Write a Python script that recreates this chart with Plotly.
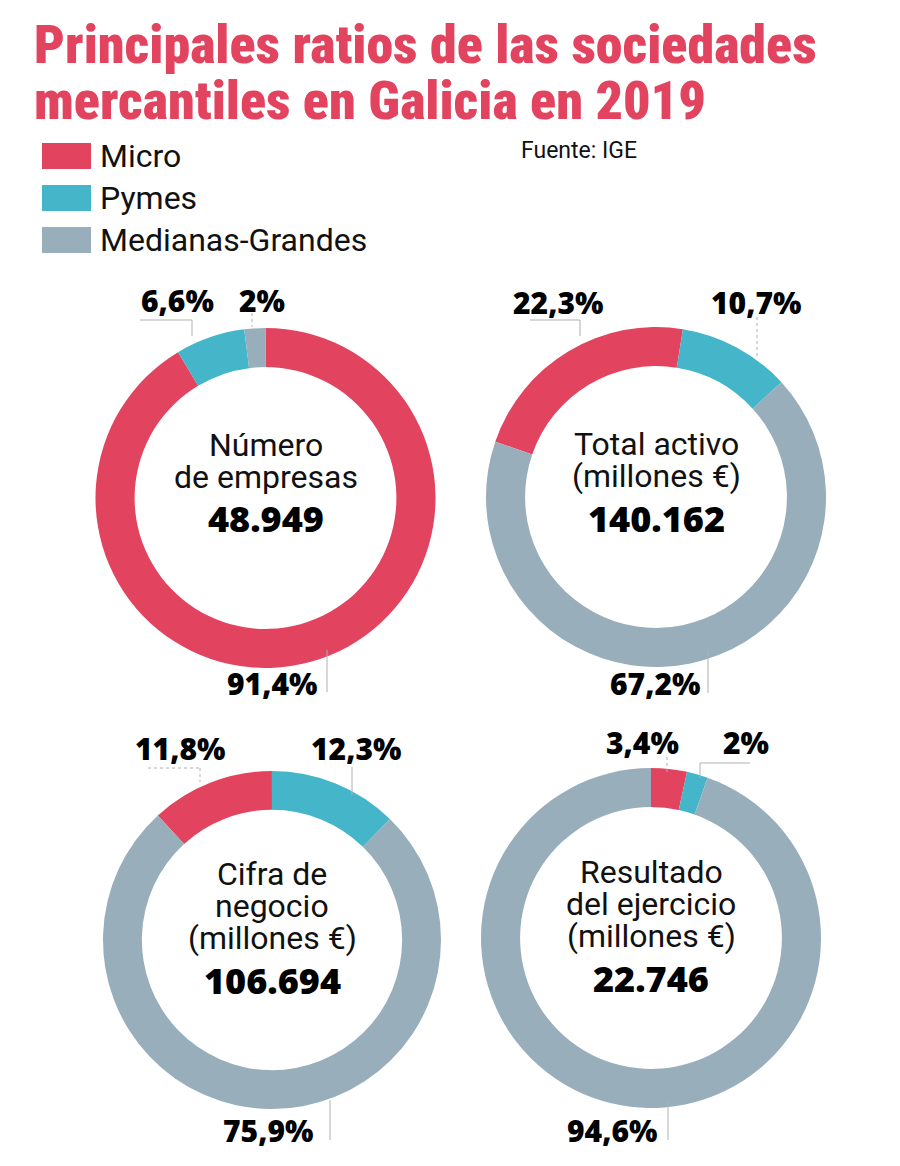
import plotly.graph_objects as go

# The page body has an 8px margin; the figure fills the rest of the 900x1166 window.
OFF = 8
W, H = 900 - OFF, 1166 - OFF

categories = ["Micro", "Pymes", "Medianas-Grandes"]
colors = ["#E2435F", "#45B6CA", "#99AEBB"]

metric_titles = [
    ["Número", "de empresas"],
    ["Total activo", "(millones €)"],
    ["Cifra de", "negocio", "(millones €)"],
    ["Resultado", "del ejercicio", "(millones €)"],
]
totals = ["48.949", "140.162", "106.694", "22.746"]

share_numero = [91.4, 6.6, 2.0]
share_activo = [22.3, 10.7, 67.2]
share_cifra = [11.8, 12.3, 75.9]
share_resultado = [3.4, 2.0, 94.6]
shares = [share_numero, share_activo, share_cifra, share_resultado]

pct_texts = [
    ["91,4%", "6,6%", "2%"],
    ["22,3%", "10,7%", "67,2%"],
    ["11,8%", "12,3%", "75,9%"],
    ["3,4%", "2%", "94,6%"],
]

rotations = [0, -71, -42.5, 0]
# donut geometry in page pixels: center x, center y, radius
geom = [(265.5, 498, 170), (656, 497, 170), (272, 940, 169), (651, 938, 170)]

RED = "#E2435F"
TITLE_FONT = "Roboto Condensed"
BODY_FONT = "Roboto"
BOLD_FONT = "Noto Sans"


def px(x, y):
    return (x - OFF) / W, 1 - (y - OFF) / H


fig = go.Figure()
for vals, rot, (cx, cy, r) in zip(shares, rotations, geom):
    x0, y1 = px(cx - r, cy - r)
    x1, y0 = px(cx + r, cy + r)
    fig.add_trace(go.Pie(
        labels=categories, values=vals, sort=False, direction="clockwise",
        rotation=rot, hole=0.77, textinfo="none", hoverinfo="label+percent",
        marker=dict(colors=colors, line=dict(width=0)), showlegend=False,
        domain=dict(x=[x0, x1], y=[y0, y1]),
    ))

ann = []
shapes = []

# Title
for txt, y in [("Principales ratios de las sociedades", 44),
               ("mercantiles en Galicia en 2019", 100)]:
    x0, y0 = px(32, y)
    ann.append(dict(x=x0, y=y0, xref="paper", yref="paper", xanchor="left", yanchor="middle",
                    text=txt, showarrow=False,
                    font=dict(family=TITLE_FONT, size=54, color=RED, weight=900)))

# Legend
for k, (cat, col) in enumerate(zip(categories, colors)):
    yc = 156 + k * 42
    x0, y0 = px(42, yc - 13)
    x1, y1 = px(91, yc + 13)
    shapes.append(dict(type="rect", xref="paper", yref="paper", x0=x0, x1=x1, y0=y1, y1=y0,
                       fillcolor=col, line=dict(width=0)))
    tx, ty = px(98, yc)
    ann.append(dict(x=tx, y=ty, xref="paper", yref="paper", xanchor="left", yanchor="middle",
                    text=cat, showarrow=False, font=dict(family=BODY_FONT, size=32, color="#111")))

fx, fy = px(519, 150)
ann.append(dict(x=fx, y=fy, xref="paper", yref="paper", xanchor="left", yanchor="middle",
                text="Fuente: IGE", showarrow=False, font=dict(family=BODY_FONT, size=23, color="#111")))

# Center texts
for (cx, cy, r), lines, tot in zip(geom, metric_titles, totals):
    n = len(lines)
    lh = 32
    start = cy - 53 if n == 2 else cy - 66
    for j, line in enumerate(lines):
        x0, y0 = px(cx, start + j * lh)
        ann.append(dict(x=x0, y=y0, xref="paper", yref="paper", xanchor="center", yanchor="middle",
                        text=line, showarrow=False, font=dict(family=BODY_FONT, size=32, color="#111")))
    x0, y0 = px(cx, start + n * lh + 10)
    ann.append(dict(x=x0, y=y0, xref="paper", yref="paper", xanchor="center", yanchor="middle",
                    text=tot, showarrow=False, font=dict(family=BOLD_FONT, size=36, color="#000", weight=900)))

# Percentage label positions (page pixels), in the same order as pct_texts
pct_pos = [
    [(272, 683), (177, 301), (262, 301)],
    [(558, 302), (756, 302), (655, 683)],
    [(180, 748), (356, 748), (268, 1130)],
    [(642, 742), (746, 742), (612, 1130)],
]
for texts, poss in zip(pct_texts, pct_pos):
    for txt, (x, y) in zip(texts, poss):
        x0, y0 = px(x, y)
        ann.append(dict(x=x0, y=y0, xref="paper", yref="paper", xanchor="center", yanchor="middle",
                        text=txt, showarrow=False,
                        font=dict(family=BOLD_FONT, size=30, color="#000", weight=900)))

# Leader lines (page-pixel polylines)
leaders = [
    ([(140, 320), (192, 320), (192, 336)], "solid"),
    ([(252, 313), (252, 327)], "dot"),
    ([(327, 650), (327, 692)], "solid"),
    ([(530, 320), (580, 320), (580, 336)], "solid"),
    ([(757, 317), (757, 358)], "dot"),
    ([(708, 650), (708, 693)], "solid"),
    ([(148, 768), (200, 768), (200, 782)], "dot"),
    ([(352, 767), (352, 795)], "solid"),
    ([(330, 1100), (330, 1140)], "solid"),
    ([(667, 757), (667, 773)], "dot"),
    ([(750, 763), (700, 763), (700, 778)], "solid"),
    ([(668, 1100), (668, 1140)], "solid"),
]
for pts, dash in leaders:
    for (a, b), (c, d) in zip(pts[:-1], pts[1:]):
        x0, y0 = px(a, b)
        x1, y1 = px(c, d)
        shapes.append(dict(type="line", xref="paper", yref="paper", x0=x0, y0=y0, x1=x1, y1=y1,
                           line=dict(color="#B0B0B0", width=1, dash=dash)))

fig.update_layout(
    width=W, height=H, margin=dict(l=0, r=0, t=0, b=0),
    paper_bgcolor="white", plot_bgcolor="white",
    annotations=ann, shapes=shapes,
)

fig.write_html("out.html")
